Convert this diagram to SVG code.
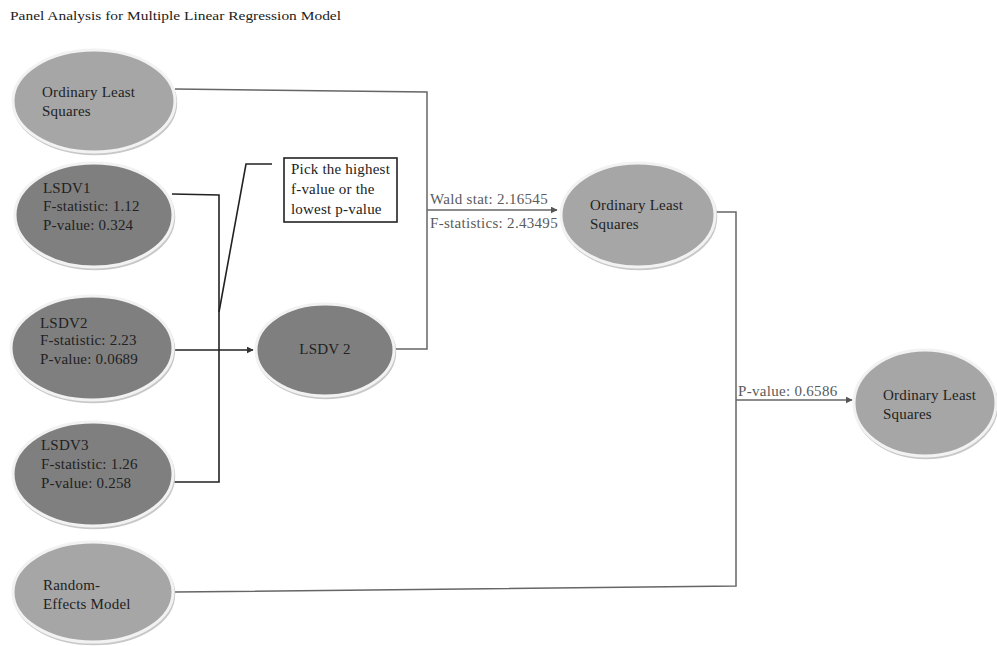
<svg xmlns="http://www.w3.org/2000/svg" width="997" height="646" viewBox="0 0 997 646">
<defs>
<marker id="arr" viewBox="0 0 10 10" refX="9" refY="5" markerWidth="7" markerHeight="7" orient="auto" markerUnits="userSpaceOnUse"><path d="M0,0 L10,5 L0,10 z" fill="#333"/></marker>
<marker id="arrg" viewBox="0 0 10 10" refX="9" refY="5" markerWidth="7" markerHeight="7" orient="auto" markerUnits="userSpaceOnUse"><path d="M0,0 L10,5 L0,10 z" fill="#555"/></marker>
</defs>
<style>
text{font-family:"Liberation Serif","DejaVu Serif",serif;fill:#222;font-size:15px;letter-spacing:0.2px}
.light{fill:#a6a6a6;stroke:#f2f2f2;stroke-width:3}
.dark{fill:#7f7f7f;stroke:#f2f2f2;stroke-width:3}
.shadow{fill:none;stroke:#c8c8c8;stroke-width:2.5}
.lbl{fill:#5a5a5a;font-size:15px;letter-spacing:0.3px}
.c{fill:none;stroke:#222;stroke-width:1.6}
.g{fill:none;stroke:#666;stroke-width:1.5}
</style>
<rect width="997" height="646" fill="#fff"/>
<text x="10" y="20" style="font-size:12px;letter-spacing:0" textLength="331" lengthAdjust="spacingAndGlyphs">Panel Analysis for Multiple Linear Regression Model</text>

<g id="connectors">
<polyline class="g" points="175,89 427,92 427,349 396,349"/>
<line class="g" x1="427" y1="210" x2="557" y2="210" marker-end="url(#arrg)"/>
<polyline class="g" points="716,212 736,212 736,586 175,592"/>
<line class="g" x1="736" y1="400" x2="852" y2="400" marker-end="url(#arrg)"/>
<polyline class="c" points="172,194 219,195 219,482 172,482"/>
<line class="c" x1="172" y1="350" x2="253" y2="350" marker-end="url(#arr)"/>
<polyline class="c" points="272,164 246,164 219,312"/>
</g>

<g id="ols1"><ellipse class="shadow" cx="95" cy="103" rx="81" ry="51"/><ellipse class="light" cx="94" cy="101" rx="81" ry="51"/><text x="42" y="97">Ordinary Least</text><text x="42" y="116">Squares</text></g>
<g id="lsdv1"><ellipse class="shadow" cx="95" cy="217" rx="79" ry="52"/><ellipse class="dark" cx="94" cy="215" rx="79" ry="52"/><text x="43" y="193">LSDV1</text><text x="43" y="211">F-statistic: 1.12</text><text x="43" y="230">P-value: 0.324</text></g>
<g id="lsdv2"><ellipse class="shadow" cx="93" cy="350" rx="81" ry="52"/><ellipse class="dark" cx="92" cy="348" rx="81" ry="52"/><text x="40" y="328">LSDV2</text><text x="40" y="345">F-statistic: 2.23</text><text x="40" y="364">P-value: 0.0689</text></g>
<g id="lsdv3"><ellipse class="shadow" cx="94" cy="476" rx="80" ry="52"/><ellipse class="dark" cx="93" cy="474" rx="80" ry="52"/><text x="41" y="450">LSDV3</text><text x="41" y="469">F-statistic: 1.26</text><text x="41" y="488">P-value: 0.258</text></g>
<g id="re"><ellipse class="shadow" cx="94" cy="594" rx="80" ry="50"/><ellipse class="light" cx="93" cy="592" rx="80" ry="50"/><text x="43" y="590">Random-</text><text x="43" y="609">Effects Model</text></g>
<g id="note"><rect x="284" y="158" width="113" height="64" fill="#fff" stroke="#222" stroke-width="1.6"/><text x="291" y="174">Pick the highest</text><text x="291" y="194">f-value or the</text><text x="291" y="214">lowest p-value</text></g>
<g id="lsdvsel"><ellipse class="shadow" cx="326" cy="352" rx="69" ry="46"/><ellipse class="dark" cx="325" cy="350" rx="69" ry="46"/><text x="325" y="354" text-anchor="middle">LSDV 2</text></g>
<g id="ols2"><ellipse class="shadow" cx="639" cy="217" rx="77" ry="52"/><ellipse class="light" cx="638" cy="215" rx="77" ry="52"/><text x="590" y="210">Ordinary Least</text><text x="590" y="229">Squares</text></g>
<g id="ols3"><ellipse class="shadow" cx="926" cy="405" rx="71" ry="53"/><ellipse class="light" cx="925" cy="403" rx="71" ry="53"/><text x="883" y="400">Ordinary Least</text><text x="883" y="419">Squares</text></g>
<g id="labels"><text class="lbl" x="430" y="204">Wald stat: 2.16545</text><text class="lbl" x="430" y="228">F-statistics: 2.43495</text><text class="lbl" x="738" y="396">P-value: 0.6586</text></g>
</svg>
